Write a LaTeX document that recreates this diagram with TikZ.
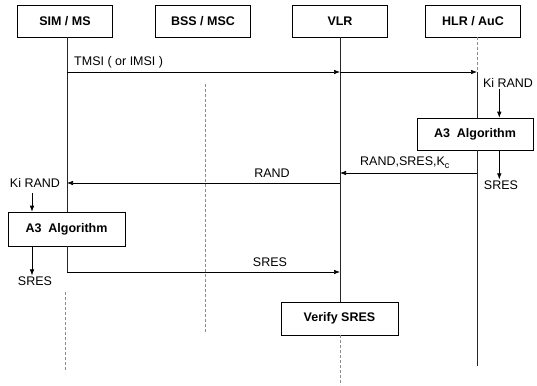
\documentclass[tikz,border=0pt]{standalone}
\usepackage{fontspec}
\setmainfont{Liberation Sans}
\usetikzlibrary{arrows.meta}
\begin{document}
\begin{tikzpicture}[x=1pt,y=-1pt,
  every node/.style={font=\fontsize{12.5}{15}\selectfont},
  actor/.style={draw, line width=0.6pt, minimum width=95pt, minimum height=32pt, inner sep=0pt, font=\fontsize{12.5}{15}\selectfont\bfseries},
  procbox/.style={draw, line width=0.6pt, minimum width=117pt, minimum height=33pt, inner sep=0pt, font=\fontsize{12.5}{15}\selectfont\bfseries},
  lbl/.style={inner sep=1pt},
  life/.style={line width=0.6pt, black!85},
  faint/.style={line width=0.6pt, black!45, dash pattern=on 3pt off 2pt},
  msg/.style={line width=0.6pt, -{Latex[length=6pt,width=4.5pt]}}
]
\useasboundingbox (0,0) rectangle (537,385);

% actors
\node[actor] (sim) at (65,21) {SIM / MS};
\node[actor] (bss) at (203,21) {BSS / MSC};
\node[actor] (vlr) at (340,21) {VLR};
\node[actor] (hlr) at (473,21) {HLR / AuC};

% process boxes
\node[procbox, minimum width=116pt, minimum height=32pt] (a3r) at (475,134) {A3\ \ Algorithm};
\node[procbox, minimum height=34pt] (a3l) at (66.5,229) {A3\ \ Algorithm};
\node[procbox] (ver) at (339.5,318.5) {Verify SRES};

% lifeline coordinates
\coordinate (simT) at (67,37);
\coordinate (simA) at (67,212);
\coordinate (simB) at (67,246);
\coordinate (simS) at (67,272);
\coordinate (simE) at (65,372);
\coordinate (bssT) at (205,84);
\coordinate (bssE) at (205,332);
\coordinate (vlrT) at (340,37);
\coordinate (vlrV) at (340,302);
\coordinate (vlrB) at (340,335);
\coordinate (vlrE) at (340,385);
\coordinate (hlrT) at (477,37);
\coordinate (hlrA) at (477,118);
\coordinate (hlrB) at (477,150);
\coordinate (hlrE) at (477,366);

% message points
\coordinate (m1s) at (67,72);
\coordinate (m1v) at (340,72);
\coordinate (m1h) at (477,72);
\coordinate (m2h) at (477,173);
\coordinate (m2v) at (340,173);
\coordinate (m3v) at (340,183);
\coordinate (m3s) at (67,183);
\coordinate (m4s) at (67,272);
\coordinate (m4v) at (340,272);

% lifelines
\draw[life] (simT) -- (simA);
\draw[life] (simB) -- (simS);
\draw[faint] (simS) ++(-2,20) -- (simE);
\draw[faint] (bssT) -- (bssE);
\draw[life] (vlrT) -- (vlrV);
\draw[faint] (vlrB) -- (vlrE);
\draw[faint] (hlrT) -- (m1h);
\draw[life] (m1h) -- (hlrA);
\draw[life] (hlrB) -- (hlrE);

% messages
\draw[msg] (m1s) -- (m1v);
\draw[msg] (m1v) -- (m1h);
\node[lbl, anchor=south west] (t1) at (73,69) {TMSI ( or IMSI )};

\draw[msg] (m2h) -- (m2v);
\node[lbl, anchor=south west] (t2) at (359,170) {RAND,SRES,K\raisebox{-3pt}{\fontsize{9}{10}\selectfont c}};

\draw[msg] (m3v) -- (m3s);
\node[lbl] (t3) at (272,173) {RAND};

\draw[msg] (m4s) -- (m4v);
\node[lbl] (t4) at (270,262) {SRES};

% HLR side
\node[lbl] (kir) at (508,83) {Ki RAND};
\draw[msg] (kir.south -| a3r.north east) ++(-34,0) coordinate (kirA) -- (kirA |- a3r.north);
\node[lbl] (sresr) at (501,185) {SRES};
\draw[msg] (a3r.south -| kirA) -- (kirA |- sresr.north);

% SIM side
\node[lbl] (kil) at (35,183) {Ki RAND};
\coordinate (kilA) at (32,193);
\draw[msg] (kilA) -- (kilA |- a3l.north);
\node[lbl] (sresl) at (35,281) {SRES};
\draw[msg] (kilA |- a3l.south) -- (kilA |- sresl.north);
\end{tikzpicture}
\end{document}
